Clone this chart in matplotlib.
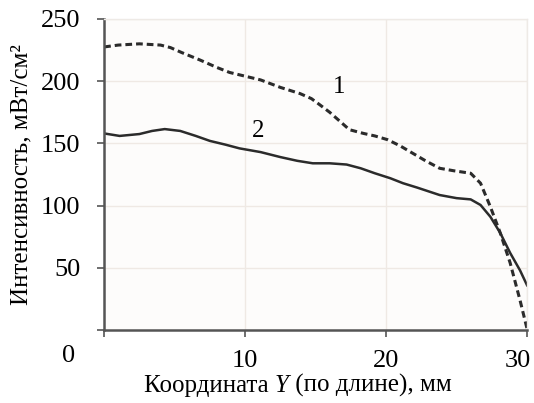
import numpy as np
import matplotlib.pyplot as plt
import matplotlib.transforms as mtransforms

plt.rcParams['font.family'] = ['Liberation Serif', 'DejaVu Serif']

# curve 1 (dashed)
x1 = [0, 1, 2.5, 4, 4.7, 5.5, 6.8, 8, 8.9, 10, 11.1, 12.5, 13.9, 14.7, 15.3,
      16, 16.7, 17.4, 18.4, 19.2, 20.1, 21, 21.9, 22.8, 23.8, 24.8, 26, 26.7,
      27.4, 28.1, 28.8, 29.5, 30]
y1 = [227.5, 229, 230, 229, 227, 223, 217, 211, 207, 204, 201, 195, 190, 186, 181,
      175, 168, 161, 158, 156, 153, 148, 142, 136, 130, 128, 126, 118,
      99, 78, 54, 24, 1]

# curve 2 (solid)
x2 = [0, 1.1, 2.5, 3.4, 4.3, 5.4, 6.5, 7.5, 8.6, 9.6, 11.1, 12.5, 13.7, 14.8,
      16, 17.2, 18.2, 19.2, 20.3, 21.2, 22.2, 23, 23.8, 25, 26, 26.7, 27.4,
      28.1, 28.8, 29.5, 30]
y2 = [158, 156, 157.5, 160, 161.5, 160, 156, 152, 149, 146, 143, 139, 136, 134,
      134, 133, 130, 126, 122, 118, 114.5, 111.5, 108.5, 106, 105, 100.5, 91,
      78, 62, 48, 36]

yticks = [50, 100, 150, 200, 250]
xticks = [0, 10, 20, 30]
xticklabels = ['', '10', '20', '30']

fig = plt.figure(figsize=(5.34, 4.03), dpi=100)
ax = fig.add_axes([0.195, 0.181, 0.792, 0.772])
ax.set_facecolor('#fdfcfb')

ax.plot(x1, y1, color='#2b2b2b', lw=2.2, ls=(0, (2.2, 1.3)))
ax.plot(x2, y2, color='#2b2b2b', lw=1.8)

ax.set_xlim(0, 30)
ax.set_ylim(0, 250)
ax.set_yticks([0] + yticks)
ax.set_yticklabels([''] + [str(v) for v in yticks])
ax.set_xticks(xticks)
ax.set_xticklabels(xticklabels)
ax.grid(True, color='#efe9e4', lw=1.0)
ax.set_axisbelow(True)

for s in ['top', 'right']:
    ax.spines[s].set_color('#eeeae6')
    ax.spines[s].set_linewidth(1.0)
for s in ['left', 'bottom']:
    ax.spines[s].set_color('#555555')
    ax.spines[s].set_linewidth(1.8)

ax.tick_params(axis='both', labelsize=19, color='#555555', width=1.2, length=5)
ax.tick_params(axis='y', pad=12)
ax.tick_params(axis='x', pad=9)

# last x label sits a bit left of its tick
lab30 = ax.get_xticklabels()[-1]
lab30.set_transform(lab30.get_transform() + mtransforms.ScaledTranslation(-9 / 100, 0, fig.dpi_scale_trans))

ax.text(-2.55, -21, '0', fontsize=19, ha='center', va='center', clip_on=False)
ax.text(16.7, 195, '1', fontsize=18, ha='center', va='center')
ax.text(10.9, 160, '2', fontsize=18, ha='center', va='center')

# x label in three pieces so that Y is italic
t1 = fig.text(144 / 534, 1 - 392 / 403, 'Координата ', fontsize=18, ha='left', va='baseline')
t2 = ax.annotate('Y', xy=(1, 0), xycoords=t1, fontsize=18, style='italic',
                 ha='left', va='bottom')
t3 = ax.annotate(' (по длине), мм', xy=(1, 0), xycoords=t2, fontsize=18,
                 ha='left', va='bottom')

ax.set_ylabel('Интенсивность, мВт/см²', fontsize=18, labelpad=6)

fig.savefig('out.png', dpi=100)
